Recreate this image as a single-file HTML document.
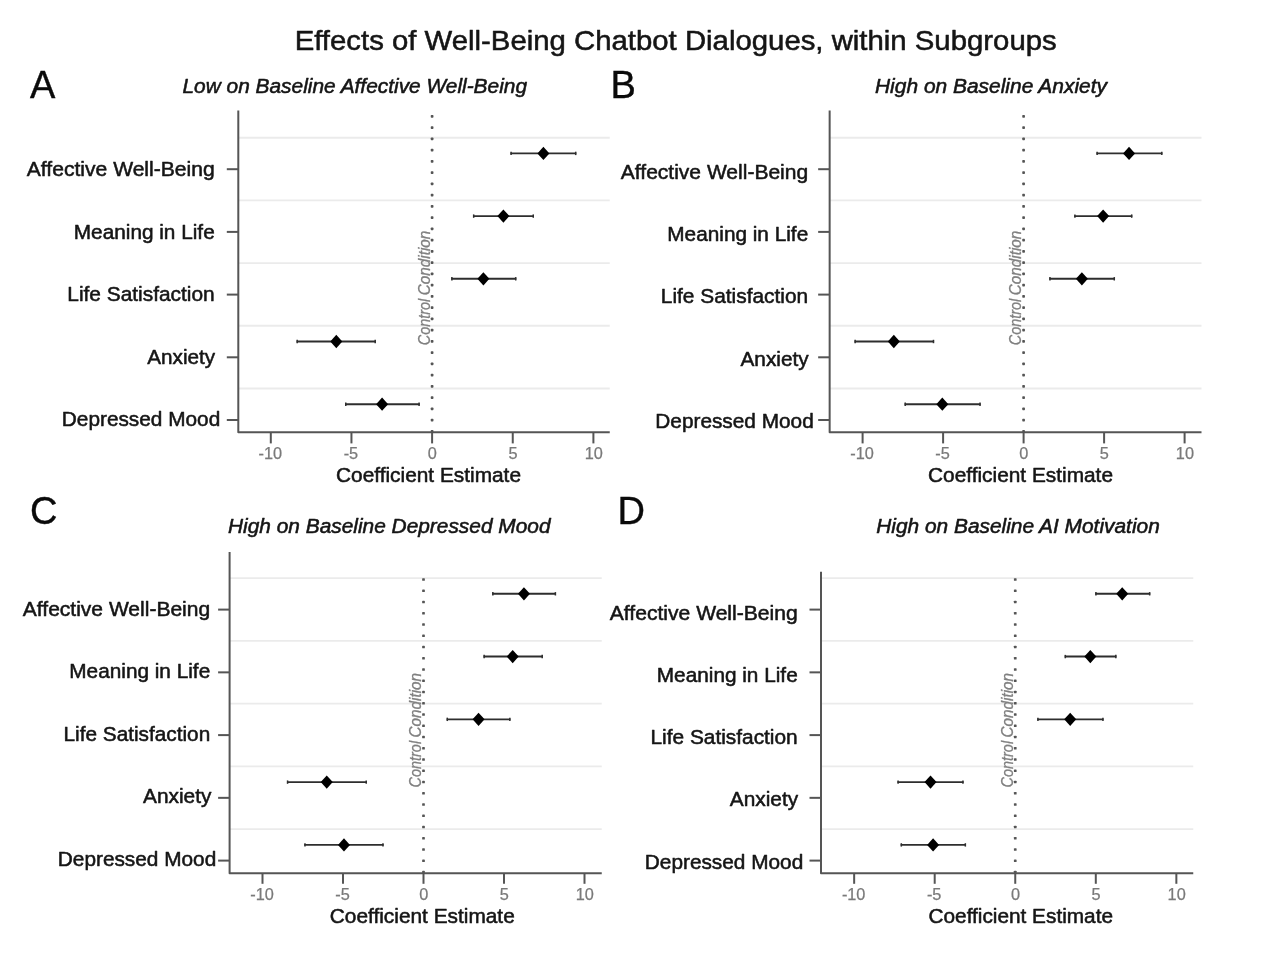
<!DOCTYPE html>
<html lang="en"><head><meta charset="utf-8"><title>Effects of Well-Being Chatbot Dialogues, within Subgroups</title>
<style>html,body{margin:0;padding:0;background:#fff;overflow:hidden}svg{display:block}text{font-family:"Liberation Sans", Arial, Helvetica, sans-serif}.b{stroke:#151515;stroke-width:0.55px;stroke-linejoin:round}.g{stroke:#7a7a7a;stroke-width:0.25px}.ax{fill:none;stroke:#555555;stroke-width:2;stroke-linejoin:round}.gr{stroke:#ebebeb;stroke-width:1.9}.ci{stroke:#2e2e2e;stroke-width:1.9}.cap{stroke:#2e2e2e;stroke-width:1.5}.dot{fill:#555555}.cc{font-size:16.5px;font-style:italic;fill:#808080;stroke:#808080;stroke-width:0.3px}</style></head><body>
<svg width="1263" height="956" viewBox="0 0 1263 956">
<rect width="1263" height="956" fill="#fff"/>
<g id="figure">
<text x="294.7" y="50" font-size="28.3" class="b" fill="#151515" textLength="762" lengthAdjust="spacingAndGlyphs">Effects of Well-Being Chatbot Dialogues, within Subgroups</text>
<g id="panel-A">
<text x="30" y="98" font-size="38" fill="#0a0a0a" stroke="#0a0a0a" stroke-width="0.4">A</text>
<text x="182.5" y="92.8" font-size="20.5" font-style="italic" class="b" fill="#151515" textLength="344.5" lengthAdjust="spacingAndGlyphs">Low on Baseline Affective Well-Being</text>
<line class="gr" x1="238.3" x2="609.75" y1="137.7" y2="137.7"/>
<line class="gr" x1="238.3" x2="609.75" y1="200.4" y2="200.4"/>
<line class="gr" x1="238.3" x2="609.75" y1="263.1" y2="263.1"/>
<line class="gr" x1="238.3" x2="609.75" y1="325.8" y2="325.8"/>
<line class="gr" x1="238.3" x2="609.75" y1="388.5" y2="388.5"/>
<rect class="dot" x="430.75" y="114.95" width="2.7" height="2.7" rx="0.7"/>
<rect class="dot" x="430.75" y="126.2" width="2.7" height="2.7" rx="0.7"/>
<rect class="dot" x="430.75" y="137.45" width="2.7" height="2.7" rx="0.7"/>
<rect class="dot" x="430.75" y="148.7" width="2.7" height="2.7" rx="0.7"/>
<rect class="dot" x="430.75" y="159.95" width="2.7" height="2.7" rx="0.7"/>
<rect class="dot" x="430.75" y="171.2" width="2.7" height="2.7" rx="0.7"/>
<rect class="dot" x="430.75" y="182.45" width="2.7" height="2.7" rx="0.7"/>
<rect class="dot" x="430.75" y="193.7" width="2.7" height="2.7" rx="0.7"/>
<rect class="dot" x="430.75" y="204.95" width="2.7" height="2.7" rx="0.7"/>
<rect class="dot" x="430.75" y="216.2" width="2.7" height="2.7" rx="0.7"/>
<rect class="dot" x="430.75" y="227.45" width="2.7" height="2.7" rx="0.7"/>
<rect class="dot" x="430.75" y="238.7" width="2.7" height="2.7" rx="0.7"/>
<rect class="dot" x="430.75" y="249.95" width="2.7" height="2.7" rx="0.7"/>
<rect class="dot" x="430.75" y="261.2" width="2.7" height="2.7" rx="0.7"/>
<rect class="dot" x="430.75" y="272.45" width="2.7" height="2.7" rx="0.7"/>
<rect class="dot" x="430.75" y="283.7" width="2.7" height="2.7" rx="0.7"/>
<rect class="dot" x="430.75" y="294.95" width="2.7" height="2.7" rx="0.7"/>
<rect class="dot" x="430.75" y="306.2" width="2.7" height="2.7" rx="0.7"/>
<rect class="dot" x="430.75" y="317.45" width="2.7" height="2.7" rx="0.7"/>
<rect class="dot" x="430.75" y="328.7" width="2.7" height="2.7" rx="0.7"/>
<rect class="dot" x="430.75" y="339.95" width="2.7" height="2.7" rx="0.7"/>
<rect class="dot" x="430.75" y="351.2" width="2.7" height="2.7" rx="0.7"/>
<rect class="dot" x="430.75" y="362.45" width="2.7" height="2.7" rx="0.7"/>
<rect class="dot" x="430.75" y="373.7" width="2.7" height="2.7" rx="0.7"/>
<rect class="dot" x="430.75" y="384.95" width="2.7" height="2.7" rx="0.7"/>
<rect class="dot" x="430.75" y="396.2" width="2.7" height="2.7" rx="0.7"/>
<rect class="dot" x="430.75" y="407.45" width="2.7" height="2.7" rx="0.7"/>
<rect class="dot" x="430.75" y="418.7" width="2.7" height="2.7" rx="0.7"/>
<rect class="dot" x="430.75" y="429.95" width="2.7" height="2.7" rx="0.7"/>
<text class="cc" transform="translate(429.5 345.2) rotate(-90)"><tspan x="0" textLength="46.5" lengthAdjust="spacingAndGlyphs">Control</tspan> <tspan x="50" textLength="64.5" lengthAdjust="spacingAndGlyphs">Condition</tspan></text>
<path class="ax" d="M238.3 110.4V432.3H609.75"/>
<line class="ax" x1="226.8" x2="238.3" y1="169.2" y2="169.2"/>
<text x="26.8" y="176" font-size="21" class="b" fill="#151515" textLength="187.9" lengthAdjust="spacingAndGlyphs">Affective Well-Being</text>
<line class="ax" x1="226.8" x2="238.3" y1="231.9" y2="231.9"/>
<text x="73.8" y="238.5" font-size="21" class="b" fill="#151515" textLength="140.9" lengthAdjust="spacingAndGlyphs">Meaning in Life</text>
<line class="ax" x1="226.8" x2="238.3" y1="294.6" y2="294.6"/>
<text x="67.3" y="301" font-size="21" class="b" fill="#151515" textLength="147.4" lengthAdjust="spacingAndGlyphs">Life Satisfaction</text>
<line class="ax" x1="226.8" x2="238.3" y1="357.3" y2="357.3"/>
<text x="147.3" y="363.5" font-size="21" class="b" fill="#151515" textLength="67.9" lengthAdjust="spacingAndGlyphs">Anxiety</text>
<line class="ax" x1="226.8" x2="238.3" y1="420" y2="420"/>
<text x="61.8" y="426" font-size="21" class="b" fill="#151515" textLength="158.4" lengthAdjust="spacingAndGlyphs">Depressed Mood</text>
<line class="ax" x1="270.8" x2="270.8" y1="432.3" y2="443.4"/>
<text x="270.3" y="458.9" font-size="16.3" class="g" fill="#7a7a7a" text-anchor="middle">-10</text>
<line class="ax" x1="351.45" x2="351.45" y1="432.3" y2="443.4"/>
<text x="350.95" y="458.9" font-size="16.3" class="g" fill="#7a7a7a" text-anchor="middle">-5</text>
<line class="ax" x1="432.1" x2="432.1" y1="432.3" y2="443.4"/>
<text x="432.4" y="458.9" font-size="16.3" class="g" fill="#7a7a7a" text-anchor="middle">0</text>
<line class="ax" x1="512.75" x2="512.75" y1="432.3" y2="443.4"/>
<text x="513.05" y="458.9" font-size="16.3" class="g" fill="#7a7a7a" text-anchor="middle">5</text>
<line class="ax" x1="593.4" x2="593.4" y1="432.3" y2="443.4"/>
<text x="593.7" y="458.9" font-size="16.3" class="g" fill="#7a7a7a" text-anchor="middle">10</text>
<text x="336" y="481.5" font-size="21" class="b" fill="#151515" textLength="185" lengthAdjust="spacingAndGlyphs">Coefficient Estimate</text>
<line class="ci" x1="510.49" x2="576.3" y1="153.4" y2="153.4"/>
<line class="cap" x1="511.09" x2="511.09" y1="151.7" y2="155.1"/>
<line class="cap" x1="575.7" x2="575.7" y1="151.7" y2="155.1"/>
<polygon points="537.4,153.4 543.4,146.75 549.4,153.4 543.4,160.05" fill="#000"/>
<line class="ci" x1="473.07" x2="533.88" y1="216.1" y2="216.1"/>
<line class="cap" x1="473.67" x2="473.67" y1="214.4" y2="217.8"/>
<line class="cap" x1="533.28" x2="533.28" y1="214.4" y2="217.8"/>
<polygon points="497.39,216.1 503.39,209.45 509.39,216.1 503.39,222.75" fill="#000"/>
<line class="ci" x1="451.29" x2="516.3" y1="278.8" y2="278.8"/>
<line class="cap" x1="451.89" x2="451.89" y1="277.1" y2="280.5"/>
<line class="cap" x1="515.7" x2="515.7" y1="277.1" y2="280.5"/>
<polygon points="477.39,278.8 483.39,272.15 489.39,278.8 483.39,285.45" fill="#000"/>
<line class="ci" x1="296.61" x2="375.81" y1="341.5" y2="341.5"/>
<line class="cap" x1="297.21" x2="297.21" y1="339.8" y2="343.2"/>
<line class="cap" x1="375.21" x2="375.21" y1="339.8" y2="343.2"/>
<polygon points="330.29,341.5 336.29,334.85 342.29,341.5 336.29,348.15" fill="#000"/>
<line class="ci" x1="345.16" x2="419.68" y1="404.2" y2="404.2"/>
<line class="cap" x1="345.76" x2="345.76" y1="402.5" y2="405.9"/>
<line class="cap" x1="419.08" x2="419.08" y1="402.5" y2="405.9"/>
<polygon points="376.1,404.2 382.1,397.55 388.1,404.2 382.1,410.85" fill="#000"/>
</g>
<g id="panel-B">
<text x="610.5" y="98" font-size="38" fill="#0a0a0a" stroke="#0a0a0a" stroke-width="0.4">B</text>
<text x="875" y="92.8" font-size="20.5" font-style="italic" class="b" fill="#151515" textLength="232" lengthAdjust="spacingAndGlyphs">High on Baseline Anxiety</text>
<line class="gr" x1="829.65" x2="1201.5" y1="137.7" y2="137.7"/>
<line class="gr" x1="829.65" x2="1201.5" y1="200.4" y2="200.4"/>
<line class="gr" x1="829.65" x2="1201.5" y1="263.1" y2="263.1"/>
<line class="gr" x1="829.65" x2="1201.5" y1="325.8" y2="325.8"/>
<line class="gr" x1="829.65" x2="1201.5" y1="388.5" y2="388.5"/>
<rect class="dot" x="1022.25" y="114.95" width="2.7" height="2.7" rx="0.7"/>
<rect class="dot" x="1022.25" y="126.2" width="2.7" height="2.7" rx="0.7"/>
<rect class="dot" x="1022.25" y="137.45" width="2.7" height="2.7" rx="0.7"/>
<rect class="dot" x="1022.25" y="148.7" width="2.7" height="2.7" rx="0.7"/>
<rect class="dot" x="1022.25" y="159.95" width="2.7" height="2.7" rx="0.7"/>
<rect class="dot" x="1022.25" y="171.2" width="2.7" height="2.7" rx="0.7"/>
<rect class="dot" x="1022.25" y="182.45" width="2.7" height="2.7" rx="0.7"/>
<rect class="dot" x="1022.25" y="193.7" width="2.7" height="2.7" rx="0.7"/>
<rect class="dot" x="1022.25" y="204.95" width="2.7" height="2.7" rx="0.7"/>
<rect class="dot" x="1022.25" y="216.2" width="2.7" height="2.7" rx="0.7"/>
<rect class="dot" x="1022.25" y="227.45" width="2.7" height="2.7" rx="0.7"/>
<rect class="dot" x="1022.25" y="238.7" width="2.7" height="2.7" rx="0.7"/>
<rect class="dot" x="1022.25" y="249.95" width="2.7" height="2.7" rx="0.7"/>
<rect class="dot" x="1022.25" y="261.2" width="2.7" height="2.7" rx="0.7"/>
<rect class="dot" x="1022.25" y="272.45" width="2.7" height="2.7" rx="0.7"/>
<rect class="dot" x="1022.25" y="283.7" width="2.7" height="2.7" rx="0.7"/>
<rect class="dot" x="1022.25" y="294.95" width="2.7" height="2.7" rx="0.7"/>
<rect class="dot" x="1022.25" y="306.2" width="2.7" height="2.7" rx="0.7"/>
<rect class="dot" x="1022.25" y="317.45" width="2.7" height="2.7" rx="0.7"/>
<rect class="dot" x="1022.25" y="328.7" width="2.7" height="2.7" rx="0.7"/>
<rect class="dot" x="1022.25" y="339.95" width="2.7" height="2.7" rx="0.7"/>
<rect class="dot" x="1022.25" y="351.2" width="2.7" height="2.7" rx="0.7"/>
<rect class="dot" x="1022.25" y="362.45" width="2.7" height="2.7" rx="0.7"/>
<rect class="dot" x="1022.25" y="373.7" width="2.7" height="2.7" rx="0.7"/>
<rect class="dot" x="1022.25" y="384.95" width="2.7" height="2.7" rx="0.7"/>
<rect class="dot" x="1022.25" y="396.2" width="2.7" height="2.7" rx="0.7"/>
<rect class="dot" x="1022.25" y="407.45" width="2.7" height="2.7" rx="0.7"/>
<rect class="dot" x="1022.25" y="418.7" width="2.7" height="2.7" rx="0.7"/>
<rect class="dot" x="1022.25" y="429.95" width="2.7" height="2.7" rx="0.7"/>
<text class="cc" transform="translate(1021 345.2) rotate(-90)"><tspan x="0" textLength="46.5" lengthAdjust="spacingAndGlyphs">Control</tspan> <tspan x="50" textLength="64.5" lengthAdjust="spacingAndGlyphs">Condition</tspan></text>
<path class="ax" d="M829.65 110.4V432.3H1201.5"/>
<line class="ax" x1="818.15" x2="829.65" y1="169.2" y2="169.2"/>
<text x="620.8" y="178.7" font-size="21" class="b" fill="#151515" textLength="187.4" lengthAdjust="spacingAndGlyphs">Affective Well-Being</text>
<line class="ax" x1="818.15" x2="829.65" y1="231.9" y2="231.9"/>
<text x="667.3" y="241" font-size="21" class="b" fill="#151515" textLength="140.9" lengthAdjust="spacingAndGlyphs">Meaning in Life</text>
<line class="ax" x1="818.15" x2="829.65" y1="294.6" y2="294.6"/>
<text x="660.8" y="303.3" font-size="21" class="b" fill="#151515" textLength="147.4" lengthAdjust="spacingAndGlyphs">Life Satisfaction</text>
<line class="ax" x1="818.15" x2="829.65" y1="357.3" y2="357.3"/>
<text x="740.5" y="365.6" font-size="21" class="b" fill="#151515" textLength="68.2" lengthAdjust="spacingAndGlyphs">Anxiety</text>
<line class="ax" x1="818.15" x2="829.65" y1="420" y2="420"/>
<text x="655.3" y="427.9" font-size="21" class="b" fill="#151515" textLength="158.4" lengthAdjust="spacingAndGlyphs">Depressed Mood</text>
<line class="ax" x1="862.6" x2="862.6" y1="432.3" y2="443.4"/>
<text x="862.1" y="458.9" font-size="16.3" class="g" fill="#7a7a7a" text-anchor="middle">-10</text>
<line class="ax" x1="943.1" x2="943.1" y1="432.3" y2="443.4"/>
<text x="942.6" y="458.9" font-size="16.3" class="g" fill="#7a7a7a" text-anchor="middle">-5</text>
<line class="ax" x1="1023.6" x2="1023.6" y1="432.3" y2="443.4"/>
<text x="1023.9" y="458.9" font-size="16.3" class="g" fill="#7a7a7a" text-anchor="middle">0</text>
<line class="ax" x1="1104.1" x2="1104.1" y1="432.3" y2="443.4"/>
<text x="1104.4" y="458.9" font-size="16.3" class="g" fill="#7a7a7a" text-anchor="middle">5</text>
<line class="ax" x1="1184.6" x2="1184.6" y1="432.3" y2="443.4"/>
<text x="1184.9" y="458.9" font-size="16.3" class="g" fill="#7a7a7a" text-anchor="middle">10</text>
<text x="928" y="481.5" font-size="21" class="b" fill="#151515" textLength="185" lengthAdjust="spacingAndGlyphs">Coefficient Estimate</text>
<line class="ci" x1="1096.53" x2="1162.38" y1="153.4" y2="153.4"/>
<line class="cap" x1="1097.13" x2="1097.13" y1="151.7" y2="155.1"/>
<line class="cap" x1="1161.78" x2="1161.78" y1="151.7" y2="155.1"/>
<polygon points="1123.06,153.4 1129.06,146.75 1135.06,153.4 1129.06,160.05" fill="#000"/>
<line class="ci" x1="1074.32" x2="1132.28" y1="216.1" y2="216.1"/>
<line class="cap" x1="1074.91" x2="1074.91" y1="214.4" y2="217.8"/>
<line class="cap" x1="1131.68" x2="1131.68" y1="214.4" y2="217.8"/>
<polygon points="1097.13,216.1 1103.13,209.45 1109.13,216.1 1103.13,222.75" fill="#000"/>
<line class="ci" x1="1049.36" x2="1114.89" y1="278.8" y2="278.8"/>
<line class="cap" x1="1049.96" x2="1049.96" y1="277.1" y2="280.5"/>
<line class="cap" x1="1114.29" x2="1114.29" y1="277.1" y2="280.5"/>
<polygon points="1075.88,278.8 1081.88,272.15 1087.88,278.8 1081.88,285.45" fill="#000"/>
<line class="ci" x1="854.55" x2="934.08" y1="341.5" y2="341.5"/>
<line class="cap" x1="855.15" x2="855.15" y1="339.8" y2="343.2"/>
<line class="cap" x1="933.48" x2="933.48" y1="339.8" y2="343.2"/>
<polygon points="887.83,341.5 893.83,334.85 899.83,341.5 893.83,348.15" fill="#000"/>
<line class="ci" x1="904.62" x2="980.61" y1="404.2" y2="404.2"/>
<line class="cap" x1="905.22" x2="905.22" y1="402.5" y2="405.9"/>
<line class="cap" x1="980.01" x2="980.01" y1="402.5" y2="405.9"/>
<polygon points="936.3,404.2 942.3,397.55 948.3,404.2 942.3,410.85" fill="#000"/>
</g>
<g id="panel-C">
<text x="30" y="524" font-size="38" fill="#0a0a0a" stroke="#0a0a0a" stroke-width="0.4">C</text>
<text x="228" y="533.3" font-size="20.5" font-style="italic" class="b" fill="#151515" textLength="322.5" lengthAdjust="spacingAndGlyphs">High on Baseline Depressed Mood</text>
<line class="gr" x1="229.6" x2="601.75" y1="578.1" y2="578.1"/>
<line class="gr" x1="229.6" x2="601.75" y1="640.85" y2="640.85"/>
<line class="gr" x1="229.6" x2="601.75" y1="703.6" y2="703.6"/>
<line class="gr" x1="229.6" x2="601.75" y1="766.35" y2="766.35"/>
<line class="gr" x1="229.6" x2="601.75" y1="829.1" y2="829.1"/>
<rect class="dot" x="422.15" y="578.15" width="2.7" height="2.7" rx="0.7"/>
<rect class="dot" x="422.15" y="589.4" width="2.7" height="2.7" rx="0.7"/>
<rect class="dot" x="422.15" y="600.65" width="2.7" height="2.7" rx="0.7"/>
<rect class="dot" x="422.15" y="611.9" width="2.7" height="2.7" rx="0.7"/>
<rect class="dot" x="422.15" y="623.15" width="2.7" height="2.7" rx="0.7"/>
<rect class="dot" x="422.15" y="634.4" width="2.7" height="2.7" rx="0.7"/>
<rect class="dot" x="422.15" y="645.65" width="2.7" height="2.7" rx="0.7"/>
<rect class="dot" x="422.15" y="656.9" width="2.7" height="2.7" rx="0.7"/>
<rect class="dot" x="422.15" y="668.15" width="2.7" height="2.7" rx="0.7"/>
<rect class="dot" x="422.15" y="679.4" width="2.7" height="2.7" rx="0.7"/>
<rect class="dot" x="422.15" y="690.65" width="2.7" height="2.7" rx="0.7"/>
<rect class="dot" x="422.15" y="701.9" width="2.7" height="2.7" rx="0.7"/>
<rect class="dot" x="422.15" y="713.15" width="2.7" height="2.7" rx="0.7"/>
<rect class="dot" x="422.15" y="724.4" width="2.7" height="2.7" rx="0.7"/>
<rect class="dot" x="422.15" y="735.65" width="2.7" height="2.7" rx="0.7"/>
<rect class="dot" x="422.15" y="746.9" width="2.7" height="2.7" rx="0.7"/>
<rect class="dot" x="422.15" y="758.15" width="2.7" height="2.7" rx="0.7"/>
<rect class="dot" x="422.15" y="769.4" width="2.7" height="2.7" rx="0.7"/>
<rect class="dot" x="422.15" y="780.65" width="2.7" height="2.7" rx="0.7"/>
<rect class="dot" x="422.15" y="791.9" width="2.7" height="2.7" rx="0.7"/>
<rect class="dot" x="422.15" y="803.15" width="2.7" height="2.7" rx="0.7"/>
<rect class="dot" x="422.15" y="814.4" width="2.7" height="2.7" rx="0.7"/>
<rect class="dot" x="422.15" y="825.65" width="2.7" height="2.7" rx="0.7"/>
<rect class="dot" x="422.15" y="836.9" width="2.7" height="2.7" rx="0.7"/>
<rect class="dot" x="422.15" y="848.15" width="2.7" height="2.7" rx="0.7"/>
<rect class="dot" x="422.15" y="859.4" width="2.7" height="2.7" rx="0.7"/>
<rect class="dot" x="422.15" y="870.65" width="2.7" height="2.7" rx="0.7"/>
<text class="cc" transform="translate(421 787.4) rotate(-90)"><tspan x="0" textLength="46.5" lengthAdjust="spacingAndGlyphs">Control</tspan> <tspan x="50" textLength="64.5" lengthAdjust="spacingAndGlyphs">Condition</tspan></text>
<path class="ax" d="M229.6 552V873.3H601.75"/>
<line class="ax" x1="218.1" x2="229.6" y1="609.6" y2="609.6"/>
<text x="22.8" y="615.6" font-size="21" class="b" fill="#151515" textLength="187.4" lengthAdjust="spacingAndGlyphs">Affective Well-Being</text>
<line class="ax" x1="218.1" x2="229.6" y1="672.35" y2="672.35"/>
<text x="69.3" y="678.2" font-size="21" class="b" fill="#151515" textLength="140.9" lengthAdjust="spacingAndGlyphs">Meaning in Life</text>
<line class="ax" x1="218.1" x2="229.6" y1="735.1" y2="735.1"/>
<text x="63.5" y="740.8" font-size="21" class="b" fill="#151515" textLength="146.7" lengthAdjust="spacingAndGlyphs">Life Satisfaction</text>
<line class="ax" x1="218.1" x2="229.6" y1="797.85" y2="797.85"/>
<text x="143" y="803.4" font-size="21" class="b" fill="#151515" textLength="68.4" lengthAdjust="spacingAndGlyphs">Anxiety</text>
<line class="ax" x1="218.1" x2="229.6" y1="860.6" y2="860.6"/>
<text x="57.8" y="866" font-size="21" class="b" fill="#151515" textLength="158.4" lengthAdjust="spacingAndGlyphs">Depressed Mood</text>
<line class="ax" x1="262.5" x2="262.5" y1="873.3" y2="883.8"/>
<text x="262" y="899.9" font-size="16.3" class="g" fill="#7a7a7a" text-anchor="middle">-10</text>
<line class="ax" x1="343" x2="343" y1="873.3" y2="883.8"/>
<text x="342.5" y="899.9" font-size="16.3" class="g" fill="#7a7a7a" text-anchor="middle">-5</text>
<line class="ax" x1="423.5" x2="423.5" y1="873.3" y2="883.8"/>
<text x="423.8" y="899.9" font-size="16.3" class="g" fill="#7a7a7a" text-anchor="middle">0</text>
<line class="ax" x1="504" x2="504" y1="873.3" y2="883.8"/>
<text x="504.3" y="899.9" font-size="16.3" class="g" fill="#7a7a7a" text-anchor="middle">5</text>
<line class="ax" x1="584.5" x2="584.5" y1="873.3" y2="883.8"/>
<text x="584.8" y="899.9" font-size="16.3" class="g" fill="#7a7a7a" text-anchor="middle">10</text>
<text x="329.75" y="922.5" font-size="21" class="b" fill="#151515" textLength="185" lengthAdjust="spacingAndGlyphs">Coefficient Estimate</text>
<line class="ci" x1="492.25" x2="556" y1="593.8" y2="593.8"/>
<line class="cap" x1="492.85" x2="492.85" y1="592.1" y2="595.5"/>
<line class="cap" x1="555.4" x2="555.4" y1="592.1" y2="595.5"/>
<polygon points="517.96,593.8 523.96,587.15 529.96,593.8 523.96,600.45" fill="#000"/>
<line class="ci" x1="483.55" x2="542.8" y1="656.57" y2="656.57"/>
<line class="cap" x1="484.15" x2="484.15" y1="654.87" y2="658.27"/>
<line class="cap" x1="542.2" x2="542.2" y1="654.87" y2="658.27"/>
<polygon points="506.69,656.57 512.69,649.92 518.69,656.57 512.69,663.22" fill="#000"/>
<line class="ci" x1="446.68" x2="510.44" y1="719.35" y2="719.35"/>
<line class="cap" x1="447.28" x2="447.28" y1="717.65" y2="721.05"/>
<line class="cap" x1="509.84" x2="509.84" y1="717.65" y2="721.05"/>
<polygon points="472.56,719.35 478.56,712.7 484.56,719.35 478.56,726" fill="#000"/>
<line class="ci" x1="286.97" x2="366.83" y1="782.12" y2="782.12"/>
<line class="cap" x1="287.57" x2="287.57" y1="780.42" y2="783.83"/>
<line class="cap" x1="366.23" x2="366.23" y1="780.42" y2="783.83"/>
<polygon points="320.74,782.12 326.74,775.48 332.74,782.12 326.74,788.77" fill="#000"/>
<line class="ci" x1="304.36" x2="383.57" y1="844.9" y2="844.9"/>
<line class="cap" x1="304.96" x2="304.96" y1="843.2" y2="846.6"/>
<line class="cap" x1="382.97" x2="382.97" y1="843.2" y2="846.6"/>
<polygon points="337.97,844.9 343.97,838.25 349.97,844.9 343.97,851.55" fill="#000"/>
</g>
<g id="panel-D">
<text x="617.5" y="524" font-size="38" fill="#0a0a0a" stroke="#0a0a0a" stroke-width="0.4">D</text>
<text x="876.25" y="533.3" font-size="20.5" font-style="italic" class="b" fill="#151515" textLength="283.5" lengthAdjust="spacingAndGlyphs">High on Baseline AI Motivation</text>
<line class="gr" x1="821" x2="1193.25" y1="578.1" y2="578.1"/>
<line class="gr" x1="821" x2="1193.25" y1="640.85" y2="640.85"/>
<line class="gr" x1="821" x2="1193.25" y1="703.6" y2="703.6"/>
<line class="gr" x1="821" x2="1193.25" y1="766.35" y2="766.35"/>
<line class="gr" x1="821" x2="1193.25" y1="829.1" y2="829.1"/>
<rect class="dot" x="1013.9" y="578.15" width="2.7" height="2.7" rx="0.7"/>
<rect class="dot" x="1013.9" y="589.4" width="2.7" height="2.7" rx="0.7"/>
<rect class="dot" x="1013.9" y="600.65" width="2.7" height="2.7" rx="0.7"/>
<rect class="dot" x="1013.9" y="611.9" width="2.7" height="2.7" rx="0.7"/>
<rect class="dot" x="1013.9" y="623.15" width="2.7" height="2.7" rx="0.7"/>
<rect class="dot" x="1013.9" y="634.4" width="2.7" height="2.7" rx="0.7"/>
<rect class="dot" x="1013.9" y="645.65" width="2.7" height="2.7" rx="0.7"/>
<rect class="dot" x="1013.9" y="656.9" width="2.7" height="2.7" rx="0.7"/>
<rect class="dot" x="1013.9" y="668.15" width="2.7" height="2.7" rx="0.7"/>
<rect class="dot" x="1013.9" y="679.4" width="2.7" height="2.7" rx="0.7"/>
<rect class="dot" x="1013.9" y="690.65" width="2.7" height="2.7" rx="0.7"/>
<rect class="dot" x="1013.9" y="701.9" width="2.7" height="2.7" rx="0.7"/>
<rect class="dot" x="1013.9" y="713.15" width="2.7" height="2.7" rx="0.7"/>
<rect class="dot" x="1013.9" y="724.4" width="2.7" height="2.7" rx="0.7"/>
<rect class="dot" x="1013.9" y="735.65" width="2.7" height="2.7" rx="0.7"/>
<rect class="dot" x="1013.9" y="746.9" width="2.7" height="2.7" rx="0.7"/>
<rect class="dot" x="1013.9" y="758.15" width="2.7" height="2.7" rx="0.7"/>
<rect class="dot" x="1013.9" y="769.4" width="2.7" height="2.7" rx="0.7"/>
<rect class="dot" x="1013.9" y="780.65" width="2.7" height="2.7" rx="0.7"/>
<rect class="dot" x="1013.9" y="791.9" width="2.7" height="2.7" rx="0.7"/>
<rect class="dot" x="1013.9" y="803.15" width="2.7" height="2.7" rx="0.7"/>
<rect class="dot" x="1013.9" y="814.4" width="2.7" height="2.7" rx="0.7"/>
<rect class="dot" x="1013.9" y="825.65" width="2.7" height="2.7" rx="0.7"/>
<rect class="dot" x="1013.9" y="836.9" width="2.7" height="2.7" rx="0.7"/>
<rect class="dot" x="1013.9" y="848.15" width="2.7" height="2.7" rx="0.7"/>
<rect class="dot" x="1013.9" y="859.4" width="2.7" height="2.7" rx="0.7"/>
<rect class="dot" x="1013.9" y="870.65" width="2.7" height="2.7" rx="0.7"/>
<text class="cc" transform="translate(1012.75 787.4) rotate(-90)"><tspan x="0" textLength="46.5" lengthAdjust="spacingAndGlyphs">Control</tspan> <tspan x="50" textLength="64.5" lengthAdjust="spacingAndGlyphs">Condition</tspan></text>
<path class="ax" d="M821 571.75V873.3H1193.25"/>
<line class="ax" x1="809.5" x2="821" y1="609.6" y2="609.6"/>
<text x="609.8" y="619.5" font-size="21" class="b" fill="#151515" textLength="187.9" lengthAdjust="spacingAndGlyphs">Affective Well-Being</text>
<line class="ax" x1="809.5" x2="821" y1="672.35" y2="672.35"/>
<text x="656.8" y="681.8" font-size="21" class="b" fill="#151515" textLength="140.9" lengthAdjust="spacingAndGlyphs">Meaning in Life</text>
<line class="ax" x1="809.5" x2="821" y1="735.1" y2="735.1"/>
<text x="650.5" y="744.1" font-size="21" class="b" fill="#151515" textLength="147.2" lengthAdjust="spacingAndGlyphs">Life Satisfaction</text>
<line class="ax" x1="809.5" x2="821" y1="797.85" y2="797.85"/>
<text x="729.8" y="806.4" font-size="21" class="b" fill="#151515" textLength="68.4" lengthAdjust="spacingAndGlyphs">Anxiety</text>
<line class="ax" x1="809.5" x2="821" y1="860.6" y2="860.6"/>
<text x="644.8" y="868.7" font-size="21" class="b" fill="#151515" textLength="158.4" lengthAdjust="spacingAndGlyphs">Depressed Mood</text>
<line class="ax" x1="854.15" x2="854.15" y1="873.3" y2="883.8"/>
<text x="853.65" y="899.9" font-size="16.3" class="g" fill="#7a7a7a" text-anchor="middle">-10</text>
<line class="ax" x1="934.7" x2="934.7" y1="873.3" y2="883.8"/>
<text x="934.2" y="899.9" font-size="16.3" class="g" fill="#7a7a7a" text-anchor="middle">-5</text>
<line class="ax" x1="1015.25" x2="1015.25" y1="873.3" y2="883.8"/>
<text x="1015.55" y="899.9" font-size="16.3" class="g" fill="#7a7a7a" text-anchor="middle">0</text>
<line class="ax" x1="1095.8" x2="1095.8" y1="873.3" y2="883.8"/>
<text x="1096.1" y="899.9" font-size="16.3" class="g" fill="#7a7a7a" text-anchor="middle">5</text>
<line class="ax" x1="1176.35" x2="1176.35" y1="873.3" y2="883.8"/>
<text x="1176.65" y="899.9" font-size="16.3" class="g" fill="#7a7a7a" text-anchor="middle">10</text>
<text x="928.5" y="922.5" font-size="21" class="b" fill="#151515" textLength="184.5" lengthAdjust="spacingAndGlyphs">Coefficient Estimate</text>
<line class="ci" x1="1095.32" x2="1150.25" y1="593.8" y2="593.8"/>
<line class="cap" x1="1095.92" x2="1095.92" y1="592.1" y2="595.5"/>
<line class="cap" x1="1149.65" x2="1149.65" y1="592.1" y2="595.5"/>
<polygon points="1116.22,593.8 1122.22,587.15 1128.22,593.8 1122.22,600.45" fill="#000"/>
<line class="ci" x1="1064.71" x2="1116.42" y1="656.57" y2="656.57"/>
<line class="cap" x1="1065.31" x2="1065.31" y1="654.87" y2="658.27"/>
<line class="cap" x1="1115.82" x2="1115.82" y1="654.87" y2="658.27"/>
<polygon points="1084.32,656.57 1090.32,649.92 1096.32,656.57 1090.32,663.22" fill="#000"/>
<line class="ci" x1="1037.32" x2="1103.53" y1="719.35" y2="719.35"/>
<line class="cap" x1="1037.92" x2="1037.92" y1="717.65" y2="721.05"/>
<line class="cap" x1="1102.93" x2="1102.93" y1="717.65" y2="721.05"/>
<polygon points="1064.19,719.35 1070.19,712.7 1076.19,719.35 1070.19,726" fill="#000"/>
<line class="ci" x1="897.49" x2="963.54" y1="782.12" y2="782.12"/>
<line class="cap" x1="898.09" x2="898.09" y1="780.42" y2="783.83"/>
<line class="cap" x1="962.94" x2="962.94" y1="780.42" y2="783.83"/>
<polygon points="924.51,782.12 930.51,775.48 936.51,782.12 930.51,788.77" fill="#000"/>
<line class="ci" x1="900.71" x2="965.95" y1="844.9" y2="844.9"/>
<line class="cap" x1="901.31" x2="901.31" y1="843.2" y2="846.6"/>
<line class="cap" x1="965.35" x2="965.35" y1="843.2" y2="846.6"/>
<polygon points="927.09,844.9 933.09,838.25 939.09,844.9 933.09,851.55" fill="#000"/>
</g>
</g>
</svg></body></html>
